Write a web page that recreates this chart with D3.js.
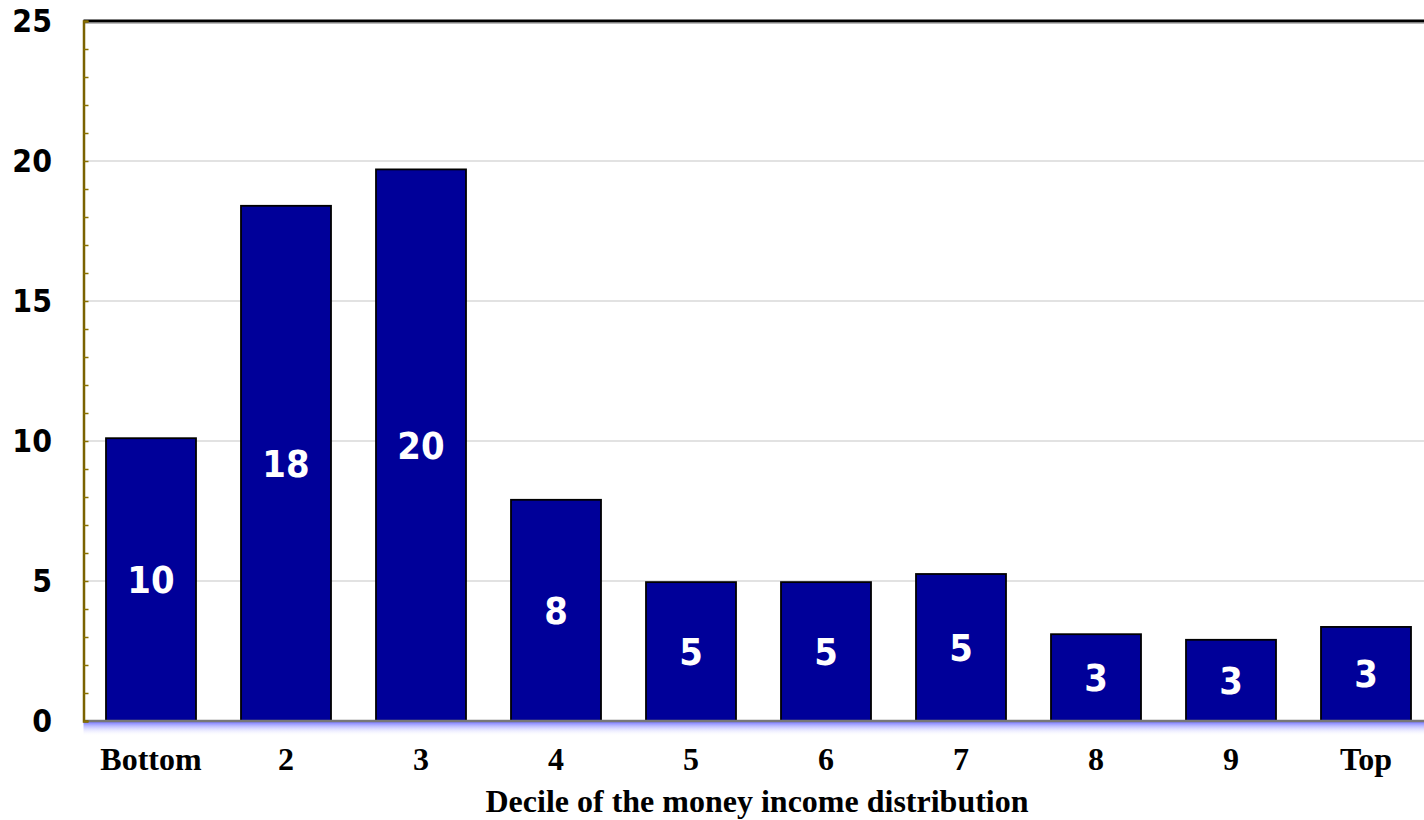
<!DOCTYPE html>
<html>
<head>
<meta charset="utf-8">
<script src="https://cdn.jsdelivr.net/npm/d3@7"></script>
<style>
  body { margin: 0; background: #fff; }
</style>
</head>
<body>
<div id="chart"></div>
<script>
// data
var deciles = ['Bottom', '2', '3', '4', '5', '6', '7', '8', '9', 'Top'];
var shares = [10.1, 18.4, 19.7, 7.9, 4.96, 4.96, 5.25, 3.1, 2.9, 3.36];
var shareLabels = ['10', '18', '20', '8', '5', '5', '5', '3', '3', '3'];
var yTicks = [0, 5, 10, 15, 20, 25];
var xTitle = 'Decile of the money income distribution';

const chart_width = 1424;
const chart_height = 820;
const plot_left = 83.5, plot_top = 21, plot_bottom = 721;

var svg = d3.select('#chart')
    .append('svg')
    .attr('width', chart_width)
    .attr('height', chart_height);

var defs = svg.append('defs');
var glow = defs.append('linearGradient')
    .attr('id', 'glow')
    .attr('x1', 0).attr('y1', 0).attr('x2', 0).attr('y2', 1);
glow.append('stop').attr('offset', '0%').attr('stop-color', '#7b7bff').attr('stop-opacity', 1);
glow.append('stop').attr('offset', '100%').attr('stop-color', '#ffffff').attr('stop-opacity', 0);

var x = d3.scaleBand()
    .domain(deciles)
    .range([plot_left, plot_left + 1350])
    .paddingInner(1 / 3)
    .paddingOuter(1 / 6);

var y = d3.scaleLinear()
    .domain([0, 25])
    .range([plot_bottom, plot_top]);

// gridlines
svg.append('g')
    .selectAll('line')
    .data([5, 10, 15, 20])
    .enter()
    .append('line')
    .attr('x1', plot_left)
    .attr('x2', chart_width)
    .attr('y1', d => y(d))
    .attr('y2', d => y(d))
    .attr('stroke', '#d9d9d9')
    .attr('stroke-width', 1.5);

// top frame
svg.append('line')
    .attr('x1', plot_left).attr('x2', chart_width)
    .attr('y1', plot_top).attr('y2', plot_top)
    .attr('stroke', '#000').attr('stroke-width', 3);
svg.append('line')
    .attr('x1', plot_left).attr('x2', chart_width)
    .attr('y1', plot_top + 2.5).attr('y2', plot_top + 2.5)
    .attr('stroke', '#bbb').attr('stroke-width', 1);

// glow under x axis
svg.append('rect')
    .attr('x', plot_left)
    .attr('y', plot_bottom + 1)
    .attr('width', chart_width - plot_left)
    .attr('height', 14)
    .attr('fill', 'url(#glow)');

// bars
svg.selectAll('rect.bar')
    .data(shares)
    .enter()
    .append('rect')
    .attr('class', 'bar')
    .attr('x', (d, i) => x(deciles[i]))
    .attr('y', d => y(d))
    .attr('width', x.bandwidth())
    .attr('height', d => plot_bottom - y(d))
    .attr('fill', '#000099')
    .attr('stroke', '#000')
    .attr('stroke-width', 1.8);

// value labels in the middle of each bar
svg.selectAll('text.val')
    .data(shares)
    .enter()
    .append('text')
    .attr('class', 'val')
    .attr('transform', (d, i) => 'translate(' + (x(deciles[i]) + x.bandwidth() / 2) + ',' + ((y(d) + plot_bottom) / 2) + ') scale(1,1.1)')
    .attr('dy', '0.36em')
    .text((d, i) => shareLabels[i])
    .attr('font-family', 'DejaVu Sans, Verdana, sans-serif')
    .attr('font-weight', 'bold')
    .attr('font-size', 34)
    .attr('fill', '#fff')
    .attr('text-anchor', 'middle');

// x axis line
svg.append('line')
    .attr('x1', plot_left).attr('x2', chart_width)
    .attr('y1', plot_bottom).attr('y2', plot_bottom)
    .attr('stroke', '#777').attr('stroke-width', 2.5);

// y axis: olive line with minor ticks inside
var yAxis = d3.axisRight(y)
    .ticks(25)
    .tickSize(5)
    .tickFormat('');
var ya = svg.append('g')
    .attr('transform', 'translate(' + plot_left + ',0)')
    .call(yAxis);
ya.select('.domain').attr('stroke', '#7a6200').attr('stroke-width', 2.5);
ya.selectAll('.tick line').attr('stroke', '#8a7000').attr('stroke-width', 1.5);

// y tick labels
svg.selectAll('text.ylab')
    .data(yTicks)
    .enter()
    .append('text')
    .attr('class', 'ylab')
    .attr('transform', d => 'translate(52,' + y(d) + ') scale(1,1.1)')
    .attr('dy', '0.36em')
    .text(d => d)
    .attr('font-family', 'DejaVu Sans, Verdana, sans-serif')
    .attr('font-weight', 'bold')
    .attr('font-size', 28.5)
    .attr('fill', '#000')
    .attr('text-anchor', 'end');

// x tick labels
svg.selectAll('text.xlab')
    .data(deciles)
    .enter()
    .append('text')
    .attr('class', 'xlab')
    .attr('x', d => x(d) + x.bandwidth() / 2)
    .attr('y', 770)
    .text(d => d)
    .attr('font-family', 'Liberation Serif, Times New Roman, serif')
    .attr('font-weight', 'bold')
    .attr('font-size', 32)
    .attr('fill', '#000')
    .attr('text-anchor', 'middle');

// axis title
svg.append('text')
    .attr('x', 757)
    .attr('y', 812)
    .text(xTitle)
    .attr('font-family', 'Liberation Serif, Times New Roman, serif')
    .attr('font-weight', 'bold')
    .attr('font-size', 32)
    .attr('fill', '#000')
    .attr('text-anchor', 'middle');
</script>
</body>
</html>
